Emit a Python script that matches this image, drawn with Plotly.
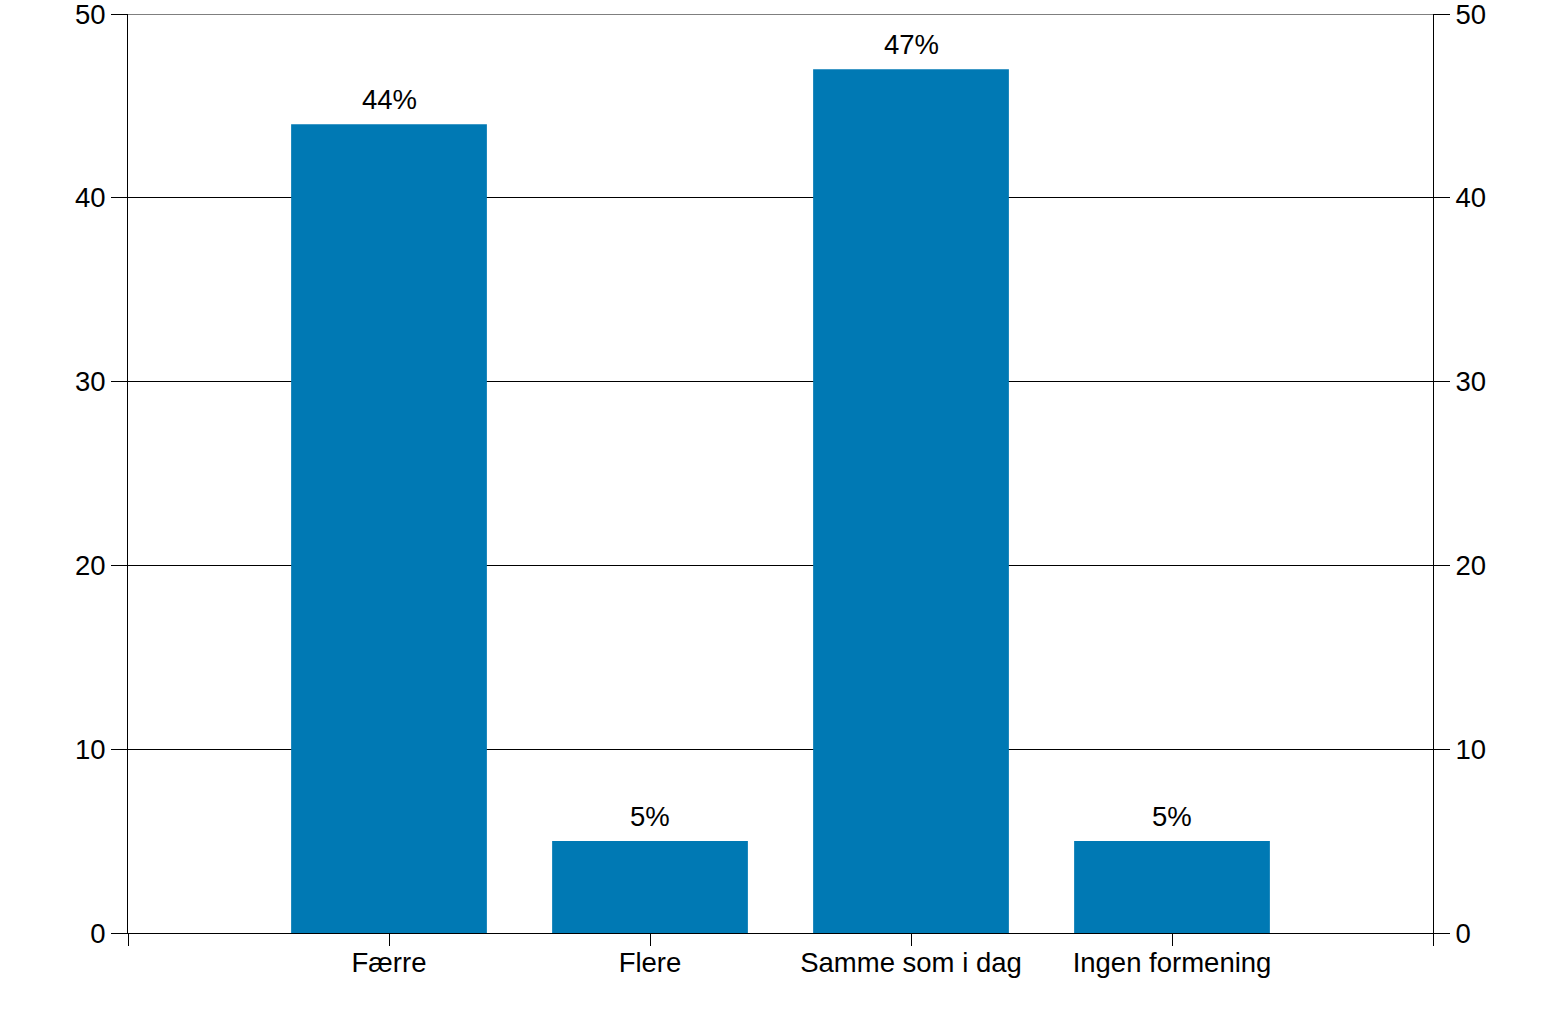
import plotly.graph_objects as go

categories = ["Færre", "Flere", "Samme som i dag", "Ingen formening"]
values = [44, 5, 47, 5]
labels = ["44%", "5%", "47%", "5%"]
y_ticks = [0, 10, 20, 30, 40, 50]

xpos = list(range(len(categories)))
font = dict(family="Liberation Sans, Arial, sans-serif", size=27.5, color="black")

fig = go.Figure()
fig.add_trace(go.Bar(x=xpos, y=values, width=0.75, marker=dict(color="#0079B4", line=dict(width=0)),
                     showlegend=False, hoverinfo="skip"))
fig.add_trace(go.Scatter(x=[xpos[0]], y=[0], yaxis="y2", mode="markers", marker=dict(opacity=0),
                         showlegend=False, hoverinfo="skip"))

for xi, v, t in zip(xpos, values, labels):
    fig.add_annotation(x=xi, y=v, text=t, showarrow=False, yanchor="bottom", yshift=7,
                       font=font)

# top border line at the maximum of the value axis
fig.add_shape(type="line", xref="paper", yref="y", x0=0, x1=1, y0=y_ticks[-1], y1=y_ticks[-1],
              line=dict(color="black", width=1))

yr = [0, 50]
fig.update_layout(
    width=1562, height=1030,
    margin=dict(l=128, r=129, t=14, b=97, autoexpand=False),
    paper_bgcolor="white", plot_bgcolor="white",
    font=font,
    xaxis=dict(range=[-1, 4], tickmode="array", tickvals=[-1] + xpos + [4],
               ticktext=[""] + categories + [""], ticks="outside", ticklen=12,
               tickcolor="black", showgrid=False, showline=True, linecolor="black",
               linewidth=1, zeroline=False, tickfont=font, ticklabelstandoff=-7,
               automargin=False),
    yaxis=dict(range=yr, tickvals=y_ticks, ticks="outside", ticklen=16, tickcolor="black",
               showgrid=True, gridcolor="black", gridwidth=1, showline=True, linecolor="black",
               zeroline=False, tickfont=font, ticklabeloverflow="allow", automargin=False),
    yaxis2=dict(range=yr, tickvals=y_ticks, ticks="outside", ticklen=16, tickcolor="black",
                overlaying="y", side="right", showgrid=False, showline=True, linecolor="black",
                zeroline=False, tickfont=font, ticklabeloverflow="allow", automargin=False),
)

fig.write_html("out.html")
